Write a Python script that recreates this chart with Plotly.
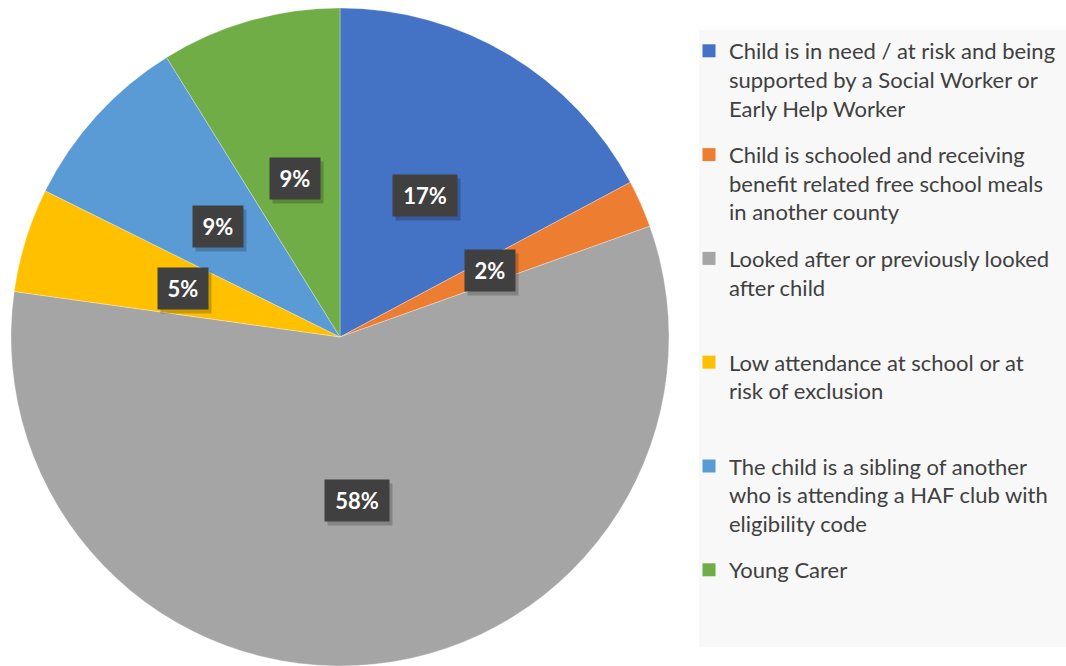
import math
import plotly.graph_objects as go

# categories and counts
labels = [
    "Child is in need / at risk and being<br>supported by a Social Worker or<br>Early Help Worker",
    "Child is schooled and receiving<br>benefit related free school meals<br>in another county",
    "Looked after or previously looked<br>after child<br> ",
    "Low attendance at school or at<br>risk of exclusion<br> ",
    "The child is a sibling of another<br>who is attending a HAF club with<br>eligibility code",
    "Young Carer",
]
counts = [37, 5, 124, 11, 19, 19]
colors = ["#4472C4", "#ED7D31", "#A5A5A5", "#FFC000", "#5B9BD5", "#70AD47"]

W, H = 1066, 666
dom_x = [11 / W, 669 / W]
dom_y = [1 - 666 / H, 1 - 8 / H]

fig = go.Figure()
fig.add_trace(go.Pie(
    labels=labels, values=counts, sort=False, direction="clockwise", rotation=0,
    marker=dict(colors=colors, line=dict(color="rgba(255,255,255,0.6)", width=0.5)),
    textinfo="none", hoverinfo="label+percent", showlegend=False,
    domain=dict(x=dom_x, y=dom_y),
))

# legend entries, one group each so the gap between them can be set
for i, (lab, col) in enumerate(zip(labels, colors)):
    fig.add_trace(go.Scatter(
        x=[None], y=[None], mode="markers", name=lab, legendgroup=f"g{i}",
        marker=dict(symbol="square", size=13, color=col),
    ))

# data labels in dark boxes, placed halfway along each slice's mid angle
cx = (dom_x[0] + dom_x[1]) / 2 * W
cy = (1 - (dom_y[0] + dom_y[1]) / 2) * H
R = min((dom_x[1] - dom_x[0]) * W, (dom_y[1] - dom_y[0]) * H) / 2
total = sum(counts)
cum = 0
for c in counts:
    mid = (cum + c / 2) / total * 2 * math.pi
    cum += c
    px_ = cx + 0.5 * R * math.sin(mid)
    py_ = cy - 0.5 * R * math.cos(mid)
    txt = f"{round(100 * c / total)}%"
    bw = 14 * len(txt) + 22
    for shadow in (True, False):
        fig.add_annotation(
            x=px_ / W, y=1 - py_ / H, xref="paper", yref="paper",
            xanchor="center", yanchor="middle",
            text=" " if shadow else txt, showarrow=False,
            xshift=3 if shadow else 0, yshift=-4 if shadow else 0,
            width=bw, height=41, borderpad=0,
            font=dict(family="Lato", size=22, color="white", weight="bold"),
            bgcolor="rgba(0,0,0,0.2)" if shadow else "#404040",
        )

fig.add_shape(type="rect", xref="paper", yref="paper",
              x0=699 / W, x1=1, y0=1 - 647 / H, y1=1 - 30 / H,
              fillcolor="#F8F8F8", line=dict(width=0), layer="below")

fig.update_layout(
    width=W, height=H,
    margin=dict(l=0, r=0, t=0, b=0),
    paper_bgcolor="white", plot_bgcolor="rgba(0,0,0,0)",
    xaxis=dict(visible=False), yaxis=dict(visible=False),
    legend=dict(
        x=689 / W, y=1 - 30 / H, xanchor="left", yanchor="top",
        bgcolor="rgba(0,0,0,0)", valign="top",
        font=dict(family="Lato", size=22, color="#404040"),
        tracegroupgap=15,
    ),
)

fig.write_html("out.html", config={"displayModeBar": False},
               post_script="document.body.style.margin='0';")
